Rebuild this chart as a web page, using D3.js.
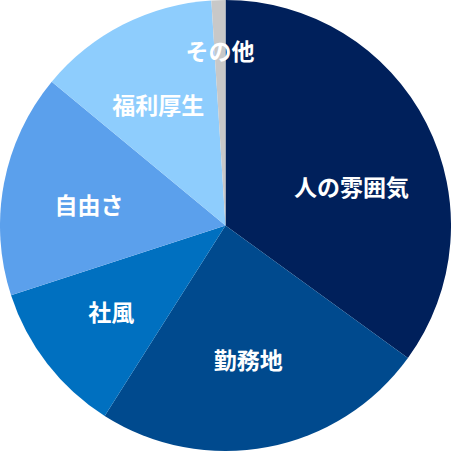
<!DOCTYPE html>
<html>
<head>
<meta charset="utf-8">
<script src="https://cdn.jsdelivr.net/npm/d3@7"></script>
<style>
  html, body { margin: 0; padding: 0; background: #fff; }
  .slice-label { font-family: "Noto Sans CJK JP", "Noto Sans", sans-serif; font-weight: bold; font-size: 23px; fill: #fff; }
</style>
</head>
<body>
<svg id="chart" width="451" height="451"></svg>
<script>
// categories and shares (percent), clockwise from 12 o'clock
var categories = ["人の雰囲気", "勤務地", "社風", "自由さ", "福利厚生", "その他"];
var shares = [35, 24, 11, 16, 13, 1];
var colors = ["#00205b", "#004a8e", "#0070c0", "#5ba0ec", "#8ecdfd", "#c8c8c8"];

// hand tweaks for where the reference puts its labels
var labelRadius = { "その他": 176 };
var labelNudge = {
    "人の雰囲気": [4, 23],
    "勤務地": [-3, -1],
    "社風": [-6, 2],
    "自由さ": [-2, 4],
    "福利厚生": [-5, 1]
};

var width = 451, height = 451;
var radius = 225.5;

var svg = d3.select("#chart");
var g = svg.append("g")
    .attr("transform", "translate(" + width / 2 + "," + height / 2 + ")");

var data = categories.map(function (c, i) {
    return { name: c, value: shares[i], color: colors[i] };
});

var pie = d3.pie()
    .value(function (d) { return d.value; })
    .sort(null);

var arc = d3.arc().innerRadius(0).outerRadius(radius);

var arcs = pie(data);

g.selectAll("path")
    .data(arcs)
    .enter()
    .append("path")
    .attr("d", arc)
    .style("fill", function (d) { return d.data.color; });

g.selectAll("text")
    .data(arcs)
    .enter()
    .append("text")
    .classed("slice-label", true)
    .attr("text-anchor", "middle")
    .attr("dominant-baseline", "central")
    .attr("transform", function (d) {
        var r = labelRadius[d.data.name] || 137;
        var c = d3.arc().innerRadius(r).outerRadius(r).centroid(d);
        var n = labelNudge[d.data.name] || [0, 0];
        return "translate(" + (c[0] + n[0]) + "," + (c[1] + n[1]) + ")";
    })
    .text(function (d) { return d.data.name; });
</script>
</body>
</html>
